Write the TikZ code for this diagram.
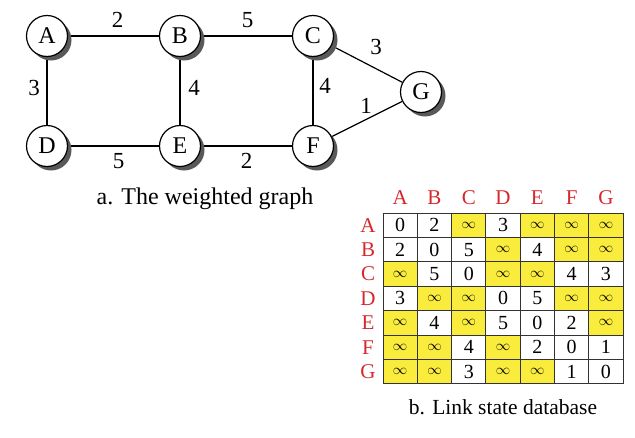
\documentclass[tikz,border=0pt]{standalone}
\usepackage{fontspec}
\setmainfont{Liberation Serif}
\usetikzlibrary{shadows,backgrounds}
\definecolor{hdrred}{RGB}{214,40,44}
\definecolor{infy}{RGB}{250,236,60}
\begin{document}
\begin{tikzpicture}[x=1pt,y=-1pt,
  vtx/.style={circle,draw,line width=1.2pt,fill=white,minimum size=41pt,inner sep=0pt,
    font=\fontsize{24}{24}\selectfont,
    drop shadow={shadow xshift=4pt,shadow yshift=-4pt,fill=black!65,opacity=1}},
  wt/.style={font=\fontsize{23}{23}\selectfont,inner sep=0pt},
  edge/.style={line width=1.2pt},
  cell/.style={draw=black!80,line width=1pt,minimum width=34.3pt,minimum height=24.4pt,
    inner sep=0pt,font=\fontsize{20}{20}\selectfont},
  hdr/.style={text=hdrred,font=\fontsize{21}{21}\selectfont,inner sep=0pt},
  captext/.style={font=\fontsize{24}{24}\selectfont,inner sep=0pt}]
\useasboundingbox (0,0) rectangle (635,437);
% vertices
\node[vtx] (A) at (47,36) {A};
\node[vtx] (B) at (180,36) {B};
\node[vtx] (C) at (313,36) {C};
\node[vtx] (G) at (421,92) {G};
\node[vtx] (D) at (47,146) {D};
\node[vtx] (E) at (180,146) {E};
\node[vtx] (F) at (313,146) {F};
% edges (behind nodes)
\begin{scope}[on background layer]
\draw[edge] (A) -- node[wt,midway,xshift=4pt,yshift=16pt] (wab) {2} (B);
\draw[edge] (B) -- node[wt,midway,xshift=1pt,yshift=16pt] (wbc) {5} (C);
\draw[edge] (A) -- node[wt,midway,xshift=-13pt,yshift=3pt] (wad) {3} (D);
\draw[edge] (B) -- node[wt,midway,xshift=14pt,yshift=3pt] (wbe) {4} (E);
\draw[edge] (C) -- node[wt,midway,xshift=12pt,yshift=5pt] (wcf) {4} (F);
\draw[edge] (D) -- node[wt,midway,xshift=5pt,yshift=-15pt] (wde) {5} (E);
\draw[edge] (E) -- node[wt,midway,xshift=0pt,yshift=-15pt] (wef) {2} (F);
\draw[edge] (C) -- node[wt,midway,xshift=9pt,yshift=17pt] (wcg) {3} (G);
\draw[edge] (F) -- node[wt,midway,xshift=-1pt,yshift=13pt] (wfg) {1} (G);
\end{scope}
\node[captext] (capa) at (205,199) {a. The weighted graph};
% table headers
\foreach \L [count=\c] in {A,B,C,D,E,F,G} {
  \node[hdr] (ch-\c) at ({400.15+34.3*(\c-1)},198) {\L};
  \node[hdr] (rh-\c) at (368,{225.2+24.4*(\c-1)}) {\L};
}
% table cells
\foreach \row [count=\r] in {
  {0,2,i,3,i,i,i},
  {2,0,5,i,4,i,i},
  {i,5,0,i,i,4,3},
  {3,i,i,0,5,i,i},
  {i,4,i,5,0,2,i},
  {i,i,4,i,2,0,1},
  {i,i,3,i,i,1,0}} {
  \foreach \v [count=\c] in \row {
    \if i\v \def\cf{infy}\def\ct{{\fontsize{15}{15}\selectfont$\infty$}}%
    \else \def\cf{white}\edef\ct{\v}\fi
    \node[cell,fill=\cf] (m-\r-\c) at ({400.15+34.3*(\c-1)},{225.2+24.4*(\r-1)}) {\ct};
  }
}
\node[captext,font=\fontsize{21.5}{21.5}\selectfont] (capb) at (503,407) {b. Link state database};
\end{tikzpicture}
\end{document}
